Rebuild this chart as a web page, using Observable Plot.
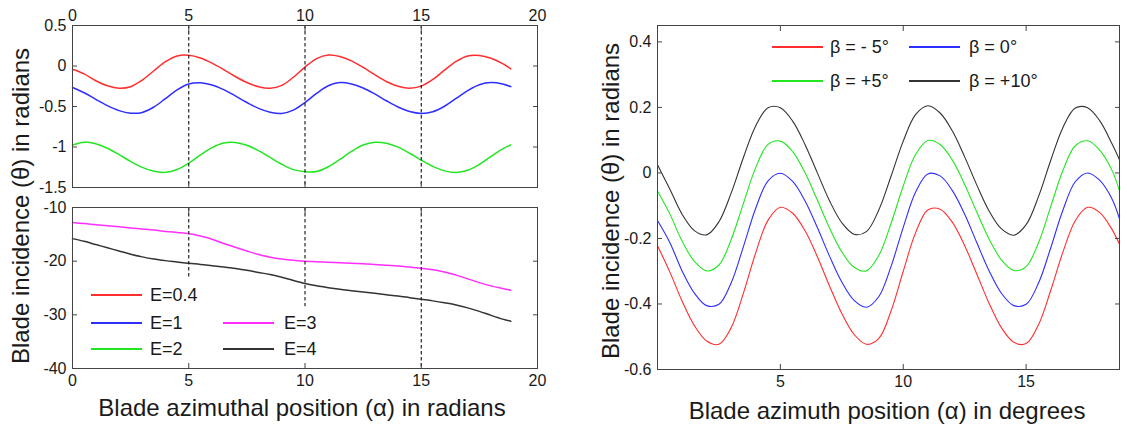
<!DOCTYPE html>
<html><head><meta charset="utf-8">
<script src="https://cdn.jsdelivr.net/npm/d3@7"></script>
<script src="https://cdn.jsdelivr.net/npm/@observablehq/plot@0.6"></script>
<style>
body{margin:0;background:#fff;}
#wrap{position:relative;width:1127px;height:427px;overflow:hidden;font-family:"Liberation Sans",Arial,sans-serif;color:#1a1a1a;background:#fff;}
.panel{position:absolute;}
.ytitle{position:absolute;transform:translate(-50%,-50%) rotate(-90deg);white-space:nowrap;font-size:24px;line-height:1;}
.xtitle{position:absolute;transform:translate(-50%,-50%);white-space:nowrap;font-size:24px;line-height:1;}
.legline{position:absolute;height:2px;width:51px;transform:translateY(-50%);}
.legtext{position:absolute;white-space:nowrap;font-size:18px;line-height:1;transform:translateY(-50%);}
</style></head>
<body><div id="wrap"></div>
<script>
// ---------- data ----------
const alphaL = [0,0.5,1,1.5,2,2.5,3,3.5,4,4.5,5,5.5,6,6.5,7,7.5,8,8.5,9,9.5,10,10.5,11,11.5,12,12.5,13,13.5,14,14.5,15,15.5,16,16.5,17,17.5,18,18.5,18.85];
const alphaR = [0,0.5,1,1.5,2,2.5,3,3.5,4,4.5,5,5.5,6,6.5,7,7.5,8,8.5,9,9.5,10,10.5,11,11.5,12,12.5,13,13.5,14,14.5,15,15.5,16,16.5,17,17.5,18,18.5,18.8];

// top-left panel (E = 0.4, 1, 2)
const e04 = [-0.04,-0.098,-0.182,-0.244,-0.274,-0.256,-0.175,-0.059,0.053,0.124,0.132,0.099,0.036,-0.044,-0.130,-0.204,-0.256,-0.275,-0.239,-0.139,-0.013,0.092,0.135,0.117,0.063,-0.017,-0.107,-0.191,-0.250,-0.275,-0.249,-0.166,-0.051,0.057,0.124,0.131,0.096,0.029,-0.035];
const e1 = [-0.265,-0.330,-0.412,-0.490,-0.551,-0.582,-0.573,-0.506,-0.402,-0.295,-0.222,-0.206,-0.234,-0.292,-0.369,-0.451,-0.523,-0.570,-0.585,-0.544,-0.451,-0.338,-0.244,-0.205,-0.221,-0.271,-0.345,-0.429,-0.506,-0.562,-0.585,-0.564,-0.497,-0.401,-0.303,-0.231,-0.205,-0.223,-0.255];
const e2 = [-0.975,-0.940,-0.961,-1.016,-1.094,-1.178,-1.252,-1.300,-1.313,-1.278,-1.199,-1.098,-1.007,-0.950,-0.943,-0.979,-1.045,-1.129,-1.213,-1.279,-1.305,-1.302,-1.244,-1.153,-1.055,-0.976,-0.941,-0.953,-1.002,-1.077,-1.162,-1.240,-1.295,-1.314,-1.287,-1.215,-1.117,-1.022,-0.975];
// bottom-left panel (E = 3, 4)
const e3 = [-12.8,-13.0,-13.2,-13.4,-13.6,-13.8,-14.0,-14.2,-14.45,-14.65,-14.85,-15.3,-15.9,-16.7,-17.4,-18.1,-18.75,-19.25,-19.6,-19.85,-20.0,-20.1,-20.2,-20.3,-20.4,-20.5,-20.6,-20.75,-20.9,-21.1,-21.3,-21.6,-22.0,-22.6,-23.3,-24.0,-24.6,-25.1,-25.4];
const e4 = [-15.8,-16.3,-16.9,-17.5,-18.1,-18.7,-19.2,-19.6,-19.9,-20.15,-20.4,-20.6,-20.85,-21.1,-21.35,-21.7,-22.1,-22.5,-23.0,-23.6,-24.15,-24.6,-24.95,-25.25,-25.5,-25.75,-26.0,-26.25,-26.5,-26.8,-27.1,-27.4,-27.75,-28.15,-28.7,-29.35,-30.1,-30.8,-31.2];
// right panel (beta = -5, 0, +5, +10 degrees)
const bm5 = [-0.222,-0.302,-0.391,-0.466,-0.513,-0.523,-0.472,-0.366,-0.243,-0.144,-0.105,-0.123,-0.176,-0.255,-0.345,-0.429,-0.493,-0.523,-0.506,-0.422,-0.300,-0.183,-0.113,-0.111,-0.151,-0.222,-0.310,-0.399,-0.473,-0.517,-0.521,-0.464,-0.359,-0.241,-0.146,-0.105,-0.121,-0.173,-0.218];
const b0 = [-0.145,-0.212,-0.299,-0.367,-0.405,-0.401,-0.335,-0.224,-0.107,-0.024,-0.001,-0.026,-0.085,-0.166,-0.254,-0.333,-0.389,-0.410,-0.378,-0.286,-0.166,-0.059,-0.003,-0.009,-0.054,-0.126,-0.214,-0.300,-0.368,-0.405,-0.401,-0.337,-0.229,-0.113,-0.027,0.0,-0.023,-0.080,-0.14];
const bp5 = [-0.055,-0.125,-0.208,-0.270,-0.299,-0.281,-0.203,-0.092,0.017,0.087,0.097,0.065,0.001,-0.082,-0.168,-0.241,-0.288,-0.299,-0.253,-0.155,-0.040,0.056,0.099,0.087,0.039,-0.035,-0.121,-0.203,-0.266,-0.298,-0.286,-0.214,-0.103,0.008,0.083,0.098,0.069,0.007,-0.055];
const bp10 = [0.025,-0.049,-0.126,-0.176,-0.189,-0.149,-0.061,0.048,0.144,0.199,0.199,0.158,0.087,0.001,-0.085,-0.152,-0.187,-0.179,-0.114,-0.011,0.097,0.178,0.205,0.183,0.128,0.049,-0.038,-0.117,-0.171,-0.190,-0.158,-0.073,0.038,0.139,0.198,0.199,0.159,0.088,0.04];

// dashed reference lines (left panels)
const dashAlpha = [5, 10, 15];
const dashTopBottom = [-10, -10, -10];
const dashLowEnd = [-23, -28.5, -40];

// ticks
const ticksXL = [0, 5, 10, 15, 20];
const ticksYTop = [0.5, 0, -0.5, -1, -1.5];
const ticksYBot = [-10, -20, -30, -40];
const ticksXR = [5, 10, 15];
const ticksYR = [0.4, 0.2, 0, -0.2, -0.4, -0.6];

// labels
const leftLegend = ["E=0.4", "E=1", "E=2", "E=3", "E=4"];
const rightLegend = ["β = - 5°", "β = 0°", "β = +5°", "β = +10°"];
const yTitle = "Blade incidence (θ) in radians";
const xTitleL = "Blade azimuthal position (α) in radians";
const xTitleR = "Blade azimuth position (α) in degrees";

// colours
const RED = "#ff2e2e", BLUE = "#2e2eff", GREEN = "#22e622", MAG = "#ff2eff", BLK = "#333333";

// ---------- helpers ----------
const toRows = (xs, ys) => xs.map((a, i) => ({a, v: ys[i]}));
const fmt = d => String(d);
const blank = () => "";
const baseStyle = {fontFamily: "'Liberation Sans', Arial, sans-serif", fontSize: "16px", color: "#1a1a1a", background: "transparent", overflow: "visible"};
const frameStroke = "#444";
function box(xt, yt, xLabelSide) {
  return [
    Plot.frame({stroke: frameStroke, strokeWidth: 1}),
    Plot.axisX(xt, {anchor: "top", tickSize: -5, tickPadding: 10, tickFormat: xLabelSide === "top" ? fmt : blank, label: null, stroke: frameStroke}),
    Plot.axisX(xt, {anchor: "bottom", tickSize: -5, tickPadding: 11, tickFormat: xLabelSide === "bottom" ? fmt : blank, label: null, stroke: frameStroke}),
    Plot.axisY(yt, {anchor: "left", tickSize: -5, tickPadding: 11, tickFormat: fmt, label: null, stroke: frameStroke}),
    Plot.axisY(yt, {anchor: "right", tickSize: -5, tickFormat: blank, label: null, stroke: frameStroke})
  ];
}

const wrap = document.getElementById("wrap");
function place(el, left, top) {
  const d = document.createElement("div");
  d.className = "panel"; d.style.left = left + "px"; d.style.top = top + "px";
  d.appendChild(el); wrap.appendChild(d);
}

// ---------- top-left ----------
const tl = Plot.plot({
  width: 560, height: 197, marginLeft: 72, marginRight: 23, marginTop: 25, marginBottom: 10,
  x: {domain: [0, 20]}, y: {domain: [-1.5, 0.5]}, style: baseStyle,
  marks: [
    Plot.line(toRows(alphaL, e04), {x: "a", y: "v", stroke: RED, strokeWidth: 1.5, curve: "catmull-rom"}),
    Plot.line(toRows(alphaL, e1), {x: "a", y: "v", stroke: BLUE, strokeWidth: 1.5, curve: "catmull-rom"}),
    Plot.line(toRows(alphaL, e2), {x: "a", y: "v", stroke: GREEN, strokeWidth: 1.5, curve: "catmull-rom"}),
    Plot.ruleX(dashAlpha, {stroke: "#111", strokeWidth: 1.1, strokeDasharray: "3.5,2.5"}),
    ...box(ticksXL, ticksYTop, "top")
  ]
});
place(tl, 0, 0);

// ---------- bottom-left ----------
const dashRows = dashAlpha.map((a, i) => ({a, y1: dashTopBottom[i], y2: dashLowEnd[i]}));
const bl = Plot.plot({
  width: 560, height: 230, marginLeft: 72, marginRight: 23, marginTop: 10, marginBottom: 59,
  x: {domain: [0, 20]}, y: {domain: [-40, -10]}, style: baseStyle,
  marks: [
    Plot.line(toRows(alphaL, e3), {x: "a", y: "v", stroke: MAG, strokeWidth: 1.5, curve: "catmull-rom"}),
    Plot.line(toRows(alphaL, e4), {x: "a", y: "v", stroke: BLK, strokeWidth: 1.5, curve: "catmull-rom"}),
    Plot.ruleX(dashRows, {x: "a", y1: "y1", y2: "y2", stroke: "#111", strokeWidth: 1.1, strokeDasharray: "3.5,2.5"}),
    ...box(ticksXL, ticksYBot, "bottom")
  ]
});
place(bl, 0, 197);

// ---------- right ----------
const rp = Plot.plot({
  width: 557, height: 427, marginLeft: 87, marginRight: 8, marginTop: 25, marginBottom: 58,
  x: {domain: [0, 18.8]}, y: {domain: [-0.6, 0.45]}, style: baseStyle,
  marks: [
    Plot.line(toRows(alphaR, bm5), {x: "a", y: "v", stroke: RED, strokeWidth: 1.1, curve: "catmull-rom"}),
    Plot.line(toRows(alphaR, b0), {x: "a", y: "v", stroke: BLUE, strokeWidth: 1.1, curve: "catmull-rom"}),
    Plot.line(toRows(alphaR, bp5), {x: "a", y: "v", stroke: GREEN, strokeWidth: 1.1, curve: "catmull-rom"}),
    Plot.line(toRows(alphaR, bp10), {x: "a", y: "v", stroke: BLK, strokeWidth: 1.1, curve: "catmull-rom"}),
    ...box(ticksXR, ticksYR, "bottom")
  ]
});
place(rp, 570, 0);

// ---------- titles ----------
function addText(cls, txt, x, y) {
  const d = document.createElement("div");
  d.className = cls; d.textContent = txt; d.style.left = x + "px"; d.style.top = y + "px";
  wrap.appendChild(d);
}
addText("ytitle", yTitle, 21, 206);
addText("ytitle", yTitle, 611, 201);
addText("xtitle", xTitleL, 302, 408);
addText("xtitle", xTitleR, 887, 411);

// ---------- legends ----------
function legendItem(label, color, lineX, textX, y) {
  const l = document.createElement("div");
  l.className = "legline"; l.style.left = lineX + "px"; l.style.top = y + "px"; l.style.background = color;
  wrap.appendChild(l);
  const t = document.createElement("div");
  t.className = "legtext"; t.textContent = label; t.style.left = textX + "px"; t.style.top = y + "px";
  wrap.appendChild(t);
}
const lColors = [RED, BLUE, GREEN, MAG, BLK];
const lLineX = [91, 91, 91, 223, 223], lTextX = [150, 150, 150, 284, 284], lY = [295, 323, 349, 323, 349];
leftLegend.forEach((s, i) => legendItem(s, lColors[i], lLineX[i], lTextX[i], lY[i]));
const rColors = [RED, BLUE, GREEN, BLK];
const rLineX = [772, 909, 772, 909], rTextX = [830, 969, 830, 969], rY = [47, 47, 81, 81];
rightLegend.forEach((s, i) => legendItem(s, rColors[i], rLineX[i], rTextX[i], rY[i]));
</script>
</body></html>
